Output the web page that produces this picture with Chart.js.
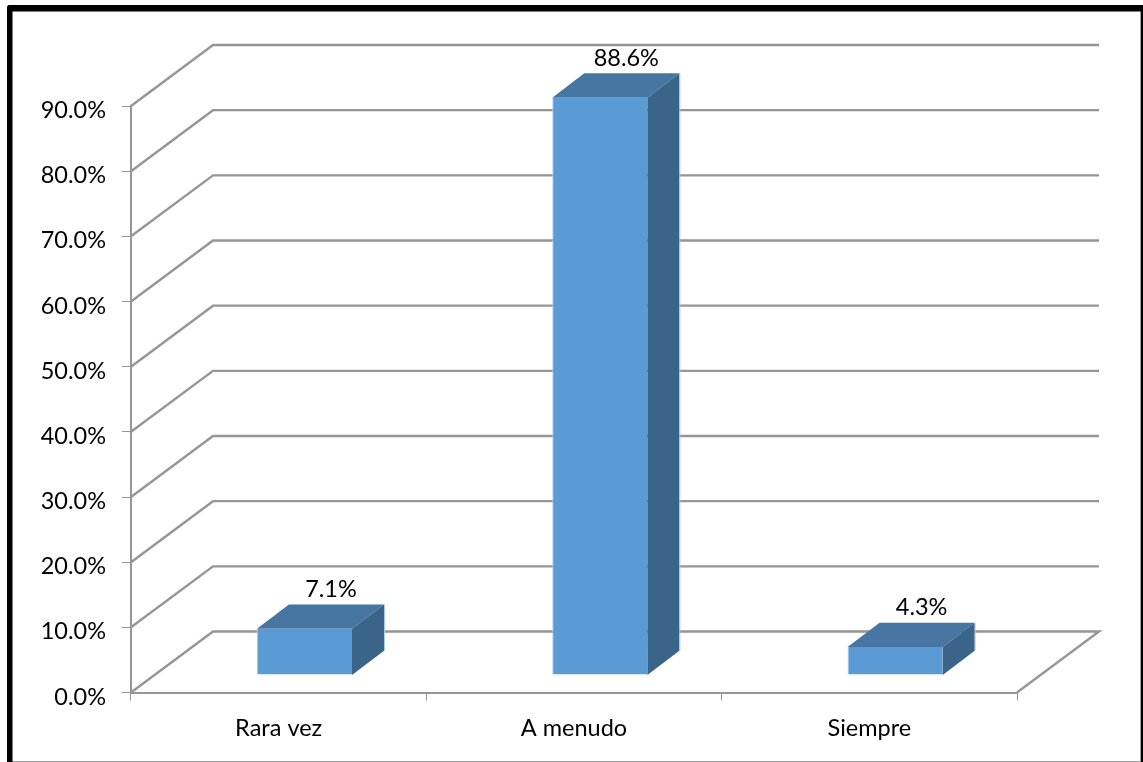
<!DOCTYPE html>
<html>
<head>
<meta charset="utf-8">
<style>
  html, body { margin: 0; padding: 0; background: #fff; overflow: hidden; }
  canvas { display: block; }
</style>
<script src="https://cdn.jsdelivr.net/npm/chart.js@4/dist/chart.umd.min.js"></script>
</head>
<body>
<canvas id="chart" width="1143" height="762"></canvas>
<script>
const categories = ['Rara vez', 'A menudo', 'Siempre'];
const percentages = [7.1, 88.6, 4.3];
const axisMax = 90;
const axisStep = 10;

const FONT = 'Lato, Carlito, sans-serif';
const FONT_SIZE = 23.5;
const LINE = '#969696';
const FRONT = '#5b9bd5';
const TOP = '#4776a2';
const SIDE = '#3a6488';
const EDGE = '#a9cbec';

// Oblique projection: the wall sits behind the axes, the bars partway into the floor.
const WALL = { dx: 82, dy: -61 };
const BAR_PLANE = { dx: 25.8, dy: -17.4 };
const BAR_DEPTH = { dx: 32, dy: -24.4 };

const framePlugin = {
  id: 'frame',
  beforeDraw(chart) {
    const c = chart.ctx;
    c.save();
    c.fillStyle = '#fff';
    c.fillRect(0, 0, chart.width, chart.height);
    // Thin inner rule on the right and bottom, heavy band on the other edges.
    c.fillStyle = '#a0a0a0';
    c.fillRect(1140, 11, 1, 751);
    c.fillRect(12, 761, 1129, 1);
    c.fillStyle = '#000';
    c.beginPath();
    c.roundRect(7, 5, 1136, 6.5, [3, 0, 0, 0]);
    c.fill();
    c.beginPath();
    c.roundRect(7, 5, 5.5, 757, [3, 0, 0, 0]);
    c.fill();
    c.fillRect(1141, 5, 2, 757);
    c.restore();
  }
};

const wallPlugin = {
  id: 'wall',
  beforeDatasetsDraw(chart) {
    const c = chart.ctx;
    const { left, right } = chart.chartArea;
    const y = chart.scales.y;
    c.save();
    c.strokeStyle = LINE;
    c.lineWidth = 2.4;
    for (let v = 0; v <= axisMax; v += axisStep) {
      const py = y.getPixelForValue(v);
      c.beginPath();
      c.moveTo(left, py);
      c.lineTo(left + WALL.dx, py + WALL.dy);
      c.lineTo(right + WALL.dx, py + WALL.dy);
      if (v === 0) c.lineTo(right, py);
      c.stroke();
    }
    c.restore();
    // The bar rectangles are drawn by the library in the shifted floor plane.
    c.save();
    c.translate(BAR_PLANE.dx, BAR_PLANE.dy);
  },
  afterDatasetsDraw(chart) {
    const c = chart.ctx;
    const y = chart.scales.y;
    const bars = chart.getDatasetMeta(0).data;
    bars.forEach((bar) => {
      const half = bar.width / 2;
      const l = bar.x - half, r = bar.x + half;
      const t = bar.y, b = y.getPixelForValue(0);
      const { dx, dy } = BAR_DEPTH;
      c.fillStyle = TOP;
      c.beginPath();
      c.moveTo(l, t);
      c.lineTo(l + dx, t + dy);
      c.lineTo(r + dx, t + dy);
      c.lineTo(r, t);
      c.closePath();
      c.fill();
      c.fillStyle = SIDE;
      c.beginPath();
      c.moveTo(r, t);
      c.lineTo(r + dx, t + dy);
      c.lineTo(r + dx, b + dy);
      c.lineTo(r, b);
      c.closePath();
      c.fill();
      c.strokeStyle = EDGE;
      c.lineWidth = 1;
      c.beginPath();
      c.moveTo(r + dx + 0.5, t + dy);
      c.lineTo(r + dx + 0.5, b + dy);
      c.stroke();
    });
    c.restore();

    c.save();
    c.fillStyle = '#000';
    c.font = FONT_SIZE + 'px ' + FONT;
    c.textBaseline = 'middle';

    // Value captions above the far edge of each bar top.
    c.textAlign = 'center';
    bars.forEach((bar, i) => {
      c.fillText(percentages[i].toFixed(1) + '%',
        bar.x + BAR_PLANE.dx + 26.5,
        bar.y + BAR_PLANE.dy + BAR_DEPTH.dy - 15);
    });

    // Value-axis labels sit a little below their tick marks.
    c.textAlign = 'right';
    y.ticks.forEach((tick) => {
      c.fillText(tick.value.toFixed(1) + '%', 106, y.getPixelForValue(tick.value) + 4.5);
    });
    c.restore();
  }
};

new Chart(document.getElementById('chart'), {
  type: 'bar',
  data: {
    labels: categories,
    datasets: [{
      data: percentages,
      backgroundColor: FRONT,
      borderColor: EDGE,
      borderWidth: { left: 1, right: 0, top: 0, bottom: 0 },
      borderSkipped: false,
      categoryPercentage: 1,
      barPercentage: 95 / 295
    }]
  },
  options: {
    responsive: false,
    animation: false,
    layout: { padding: { top: 106, right: 126, left: 0, bottom: 0 } },
    plugins: { legend: { display: false }, tooltip: { enabled: false } },
    scales: {
      x: {
        afterFit(s) { s.height = 69.5; },
        border: { color: LINE, width: 2 },
        grid: { drawOnChartArea: false, color: LINE, lineWidth: 1, tickLength: 8, offset: true },
        ticks: { color: '#000', font: { family: FONT, size: FONT_SIZE }, padding: 14, maxRotation: 0 }
      },
      y: {
        min: 0,
        max: axisMax,
        afterFit(s) { s.width = 131; },
        border: { color: LINE, width: 2 },
        grid: { drawOnChartArea: false, color: LINE, lineWidth: 1, tickLength: 9 },
        ticks: { stepSize: axisStep, display: false }
      }
    }
  },
  plugins: [framePlugin, wallPlugin]
});
</script>
</body>
</html>
